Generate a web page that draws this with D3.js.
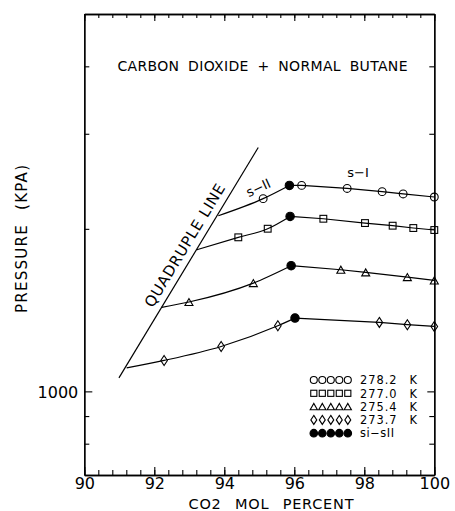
<!DOCTYPE html>
<html>
<head>
<meta charset="utf-8">
<script src="https://cdn.jsdelivr.net/npm/d3@7"></script>
<style>
  html, body { margin: 0; padding: 0; background: #fff; }
  svg { display: block; }
  text { font-family: "DejaVu Sans", "Liberation Sans", sans-serif; fill: #000; }
</style>
</head>
<body>
<script>
// ---------------- DATA ----------------
const temps = ["278.2", "277.0", "275.4", "273.7"];
const markerTypes = ["circle", "square", "triangle", "diamond"];

// start of each isotherm on the quadruple line (no marker)
const quadStartX = [93.83, 93.21, 92.21, 91.21];
const quadStartP = [2115, 1829, 1431, 1105];

// s-II branch measured points
const sIIx = [[95.11], [94.40, 95.24], [92.99, 94.83], [92.28, 93.91, 95.53]];
const sIIp = [[2275], [1929, 2001], [1464, 1587], [1141, 1211, 1323]];

// sI - sII transition points (filled circles)
const transX = [95.86, 95.88, 95.91, 96.02];
const transP = [2407, 2109, 1709, 1367];

// s-I branch measured points
const sIx = [[96.21, 97.51, 98.51, 99.11, 100.0],
             [96.83, 98.02, 98.81, 99.40, 100.0],
             [97.33, 98.04, 99.23, 100.0],
             [98.43, 99.23, 100.0]];
const sIp = [[2407, 2376, 2344, 2321, 2291],
             [2088, 2050, 2027, 2007, 1990],
             [1680, 1661, 1628, 1605],
             [1342, 1329, 1319]];

// quadruple line end points
const quadX = [90.99, 94.97];
const quadP = [1059, 2830];

// axes
const xTickLabels = [90, 92, 94, 96, 98, 100];
const yTicks = [800, 900, 1000, 2000, 3000, 4000];
const yTickLabels = [1000];

// ---------------- LAYOUT ----------------
const W = 455, H = 511;
const pLeft = 84.3, pRight = 434.3, pTop = 14, pBottom = 475;

const svg = d3.select("body").append("svg").attr("width", W).attr("height", H);

const x = d3.scaleLinear().domain([90, 100]).range([pLeft, pRight]);
const y = d3.scaleLog().domain([700, 5000]).range([pBottom, pTop]);

const minorX = d3.range(90, 100.001, 0.4);

function styleAxis(g) {
  g.selectAll("path.domain").attr("stroke", "#000").attr("stroke-width", 1.3);
  g.selectAll(".tick line").attr("stroke", "#000").attr("stroke-width", 1.1);
}

// bottom axis
const gb1 = svg.append("g").attr("transform", `translate(0,${pBottom})`)
  .call(d3.axisBottom(x).tickValues(minorX).tickSize(-5).tickSizeOuter(0).tickFormat(""));
styleAxis(gb1);
const gb2 = svg.append("g").attr("transform", `translate(0,${pBottom})`)
  .call(d3.axisBottom(x).tickValues(xTickLabels).tickSize(-8).tickSizeOuter(0).tickFormat(d3.format("d")));
styleAxis(gb2);
gb2.selectAll(".tick text").attr("y", 14).attr("dy", 0).attr("font-size", 16)
  .attr("font-family", "DejaVu Sans").attr("fill", "#000");

// top axis
const gt1 = svg.append("g").attr("transform", `translate(0,${pTop})`)
  .call(d3.axisTop(x).tickValues(minorX).tickSize(-4).tickSizeOuter(0).tickFormat(""));
styleAxis(gt1);
const gt2 = svg.append("g").attr("transform", `translate(0,${pTop})`)
  .call(d3.axisTop(x).tickValues(xTickLabels).tickSize(-7).tickSizeOuter(0).tickFormat(""));
styleAxis(gt2);

// left axis
const gl1 = svg.append("g").attr("transform", `translate(${pLeft},0)`)
  .call(d3.axisLeft(y).tickValues(yTicks.filter(v => !yTickLabels.includes(v))).tickSize(-5).tickSizeOuter(0).tickFormat(""));
styleAxis(gl1);
const gl2 = svg.append("g").attr("transform", `translate(${pLeft},0)`)
  .call(d3.axisLeft(y).tickValues(yTickLabels).tickSize(-8).tickSizeOuter(0).tickFormat(d3.format("d")));
styleAxis(gl2);
gl2.selectAll(".tick text").attr("x", -6).attr("dy", "0.36em").attr("font-size", 16)
  .attr("font-family", "DejaVu Sans").attr("fill", "#000");

// right axis
const gr1 = svg.append("g").attr("transform", `translate(${pRight},0)`)
  .call(d3.axisRight(y).tickValues(yTicks.filter(v => !yTickLabels.includes(v))).tickSize(-5).tickSizeOuter(0).tickFormat(""));
styleAxis(gr1);
const gr2 = svg.append("g").attr("transform", `translate(${pRight},0)`)
  .call(d3.axisRight(y).tickValues(yTickLabels).tickSize(-7).tickSizeOuter(0).tickFormat(""));
styleAxis(gr2);

// axis titles
svg.append("text")
  .attr("x", 271).attr("y", 508.5)
  .attr("text-anchor", "middle")
  .attr("font-size", 14.5)
  .attr("word-spacing", 8)
  .attr("textLength", 165).attr("lengthAdjust", "spacing")
  .text("CO2 MOL PERCENT");

svg.append("text")
  .attr("transform", "translate(26.5,239) rotate(-90)")
  .attr("text-anchor", "middle")
  .attr("font-size", 15)
  .attr("word-spacing", 8)
  .attr("textLength", 148).attr("lengthAdjust", "spacing")
  .text("PRESSURE (KPA)");

// chart title
svg.append("text")
  .attr("x", 117.5).attr("y", 71)
  .attr("font-size", 14)
  .attr("word-spacing", 4)
  .attr("textLength", 290).attr("lengthAdjust", "spacing")
  .text("CARBON DIOXIDE + NORMAL BUTANE");

// ---------------- QUADRUPLE LINE ----------------
const quadPts = quadX.map((d, i) => [x(d), y(quadP[i])]);
svg.append("path")
  .attr("d", d3.line()(quadPts))
  .attr("fill", "none").attr("stroke", "#000").attr("stroke-width", 1.2);

{
  const [a, b] = quadPts;
  const dx = b[0] - a[0], dy = b[1] - a[1];
  const len = Math.hypot(dx, dy);
  const ux = dx / len, uy = dy / len;
  const ang = Math.atan2(dy, dx) * 180 / Math.PI;
  const t = 0.5475;
  const px = a[0] + dx * t, py = a[1] + dy * t;
  const nx = uy, ny = -ux;
  const off = 7;
  const bx = px + nx * off, by = py + ny * off;
  svg.append("text")
    .attr("transform", `translate(${bx},${by}) rotate(${ang})`)
    .attr("text-anchor", "middle")
    .attr("font-size", 15)
    .attr("textLength", 141).attr("lengthAdjust", "spacing")
    .text("QUADRUPLE LINE");
}

// ---------------- ISOTHERMS ----------------
const lineCurve = d3.line().x(d => x(d[0])).y(d => y(d[1])).curve(d3.curveMonotoneX);
const lineLin = d3.line().x(d => x(d[0])).y(d => y(d[1]));

function marker(g, type, cx, cy, s) {
  const st = { fill: "none", stroke: "#000", "stroke-width": 1.1 };
  let el;
  if (type === "circle") {
    el = g.append("circle").attr("cx", cx).attr("cy", cy).attr("r", 3.9 * s);
  } else if (type === "square") {
    const h = 3.4 * s;
    el = g.append("rect").attr("x", cx - h).attr("y", cy - h).attr("width", 2 * h).attr("height", 2 * h);
  } else if (type === "triangle") {
    const w = 4 * s, hh = 3.5 * s;
    el = g.append("path").attr("d", `M${cx - w},${cy + hh}L${cx + w},${cy + hh}L${cx},${cy - hh}Z`);
  } else if (type === "diamond") {
    const w = 3.3 * s, hh = 5 * s;
    el = g.append("path").attr("d", `M${cx},${cy - hh}L${cx + w},${cy}L${cx},${cy + hh}L${cx - w},${cy}Z`);
  } else if (type === "filled") {
    el = g.append("circle").attr("cx", cx).attr("cy", cy).attr("r", 4.2 * s);
    st.fill = "#000";
  }
  Object.entries(st).forEach(([k, v]) => el.attr(k, v));
}

const gData = svg.append("g");
temps.forEach((tmp, i) => {
  const branchII = [[quadStartX[i], quadStartP[i]]]
    .concat(sIIx[i].map((d, j) => [d, sIIp[i][j]]))
    .concat([[transX[i], transP[i]]]);
  const branchI = [[transX[i], transP[i]]].concat(sIx[i].map((d, j) => [d, sIp[i][j]]));
  gData.append("path").attr("d", lineCurve(branchII))
    .attr("fill", "none").attr("stroke", "#000").attr("stroke-width", 1.2);
  gData.append("path").attr("d", lineLin(branchI))
    .attr("fill", "none").attr("stroke", "#000").attr("stroke-width", 1.2);
  sIIx[i].forEach((d, j) => marker(gData, markerTypes[i], x(d), y(sIIp[i][j]), 1));
  sIx[i].forEach((d, j) => marker(gData, markerTypes[i], x(d), y(sIp[i][j]), 1));
  marker(gData, "filled", x(transX[i]), y(transP[i]), 1);
});

// phase labels
svg.append("text")
  .attr("x", x(97.82)).attr("y", y(2546))
  .attr("dy", "0.36em").attr("text-anchor", "middle")
  .attr("font-size", 13).text("s−I");
svg.append("text")
  .attr("transform", `translate(${x(94.97)},${y(2384)}) rotate(-25)`)
  .attr("dy", "0.36em").attr("text-anchor", "middle")
  .attr("font-size", 13).text("s−II");

// ---------------- LEGEND ----------------
const legendLabels = temps.concat(["si−sII"]);
const legendTypes = markerTypes.concat(["filled"]);
const legSymX = [313.8, 322.3, 330.8, 339.3, 347.8];
const legY0 = 380, legDy = 13.3;
const gLeg = svg.append("g");
legendTypes.forEach((tp, i) => {
  const cy = legY0 + i * legDy;
  legSymX.forEach(cx => marker(gLeg, tp, cx, cy, 0.9));
  gLeg.append("text").attr("x", 360).attr("y", cy).attr("dy", "0.37em")
    .attr("font-size", 11.4)
    .attr("textLength", i < 4 ? 36.5 : 34).attr("lengthAdjust", "spacing")
    .text(legendLabels[i]);
  if (i < 4) {
    gLeg.append("text").attr("x", 409.5).attr("y", cy).attr("dy", "0.37em")
      .attr("font-size", 11.4).text("K");
  }
});
</script>
</body>
</html>
